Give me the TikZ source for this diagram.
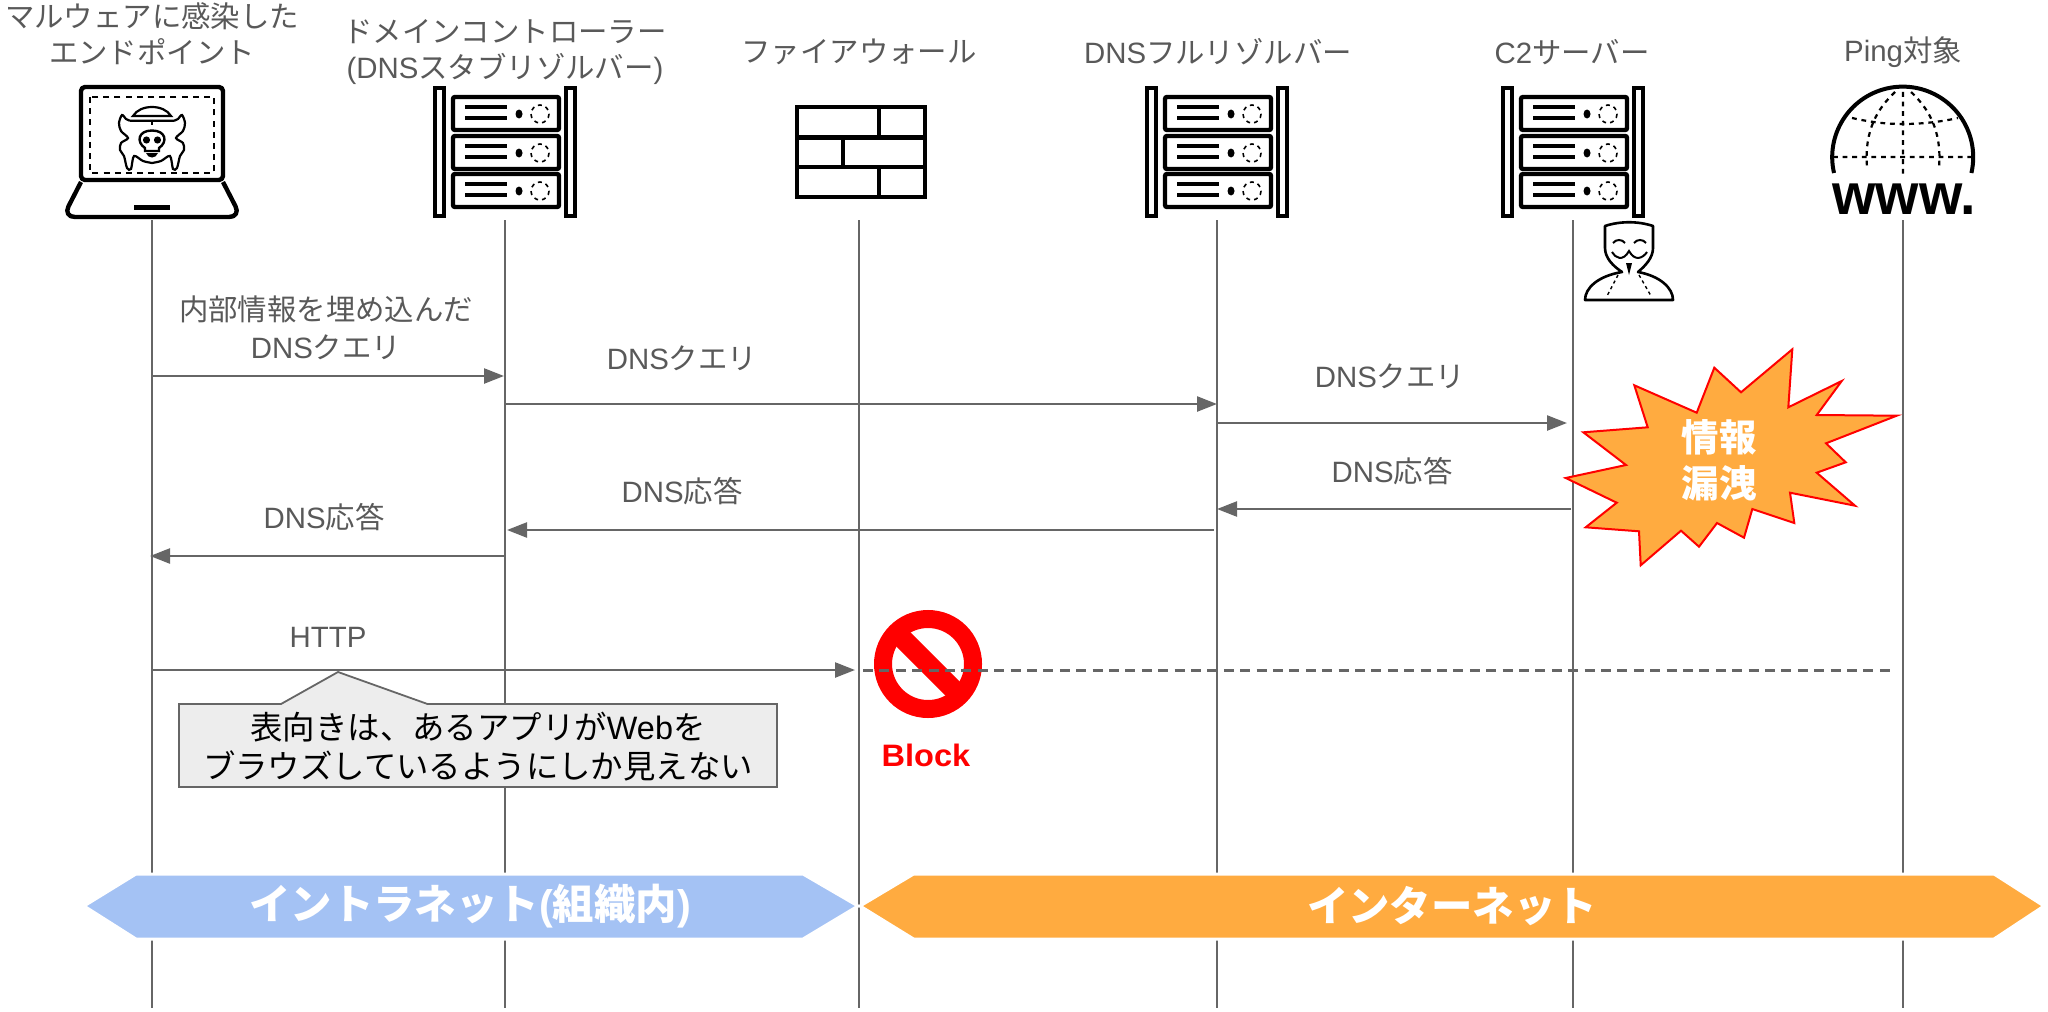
\documentclass[tikz,border=0pt]{standalone}
\usepackage{fontspec}
\setmainfont{Liberation Sans}
\newfontfamily\jp{Noto Sans CJK JP}
\usetikzlibrary{arrows.meta}
\definecolor{txtgray}{HTML}{595959}
\definecolor{linegray}{HTML}{666666}
\definecolor{zoneblue}{HTML}{A4C2F4}
\definecolor{zoneorange}{HTML}{FFAB40}
\definecolor{notered}{HTML}{FF0000}
\tikzset{
	headtxt/.style={inner sep=0pt,align=center,text=txtgray,font=\fontsize{14.7}{18}\selectfont},
	msgtxt/.style={inner sep=0pt,align=center,text=txtgray,font=\fontsize{14.7}{19}\selectfont},
	lifeline/.style={draw=linegray,line width=1.2pt},
	msgarrow/.style={draw=linegray,line width=1.2pt,-{Triangle[length=10pt,width=7.5pt]}},
	zonetxt/.style={inner sep=0pt,text=white,font=\fontsize{20.7}{24}\selectfont\bfseries},
	zonearrow/.style={draw=white,line width=1.5pt},
	icon/.style={draw=black,line width=2.2pt},
	serverrack/.pic={
		\draw[line width=1.9pt] (-70,88) rectangle (-61,216) (61,88) rectangle (70,216);
		\foreach \ytop in {97,136,174}{
			\draw[icon,rounded corners=1pt] (-52,\ytop) rectangle (54,\ytop+33);
			\draw[line width=2pt] (-40,\ytop+10) -- (2,\ytop+10) (-40,\ytop+21) -- (2,\ytop+21);
			\fill (14,\ytop+17) ellipse (3.5 and 4.5);
			\draw[line width=.8pt,dash pattern=on 2pt off 2pt] (35,\ytop+17) circle (9);
		}
	}
}
\begin{document}
\begin{tikzpicture}[x=.5pt,y=-.5pt]
	\useasboundingbox (0,0) rectangle (2048,1011);
	\foreach \x/\n in {152/ep,505/dc,859/fw,1217/fr,1573/c2,1903/pg}{
		\coordinate (\n top) at (\x,220);
		\coordinate (\n bot) at (\x,1008);
		\draw[lifeline] (\n top)--(\n bot);
	}
	% headers
	\node[headtxt] (eptxt) at (152,34) {{\jp マルウェアに感染した}\\{\jp エンドポイント}};
	\node[headtxt] (dctxt) at (505,52) {{\jp ドメインコントローラー}\\({DNS}{\jp スタブリゾルバー})};
	\node[headtxt] (fwtxt) at (859,52) {\jp ファイアウォール};
	\node[headtxt] (frtxt) at (1218,52) {DNS{\jp フルリゾルバー}};
	\node[headtxt] (c2txt) at (1572,52) {C2{\jp サーバー}};
	\node[headtxt] (pgtxt) at (1903,52) {Ping{\jp 対象}};
	% laptop
	\draw[icon,rounded corners=2pt,line join=round] (81,87) rectangle (223,180);
	\draw[line width=1.2pt,dash pattern=on 3pt off 2.6pt] (90,97) rectangle (214,173);
	\draw[icon,rounded corners=6pt,line join=round] (81,182) -- (63,217) -- (241,217) -- (223,182);
	\fill (134,205) rectangle (170,210);
	\draw[line width=1.1pt] (133,116) .. controls (140,104) and (164,104) .. (171,116) -- cycle;
	\foreach \s in {1,-1}{
		\begin{scope}[shift={(152,0)},xscale=\s]
			\draw[line width=1.1pt] (0,120.7) -- (-22,120.7) plot[smooth,tension=.5] coordinates {(-22,120.7) (-26,119) (-30,115) (-33,123) (-31,131) (-24,138) (-31,143) (-32,150) (-28,156) (-25,168) (-21,169) (-18,156) (-9,161) (0,163)};
			\fill (-5.5,140) circle (3.6);
		\end{scope}
	}
	\draw[line width=1.1pt] (152,120.7) -- (152,125);
	\draw[line width=1.2pt] (145,148) .. controls (136,142) and (138,130.5) .. (152,130.5) .. controls (166,130.5) and (168,142) .. (159,148) -- (159,151) -- (145,151) -- cycle;
	\fill[black] (146,153) .. controls (148,159) and (156,159) .. (158,153) -- cycle;
	% servers
	\foreach \x in {505,1217,1573} \pic at (\x,0) {serverrack};
	% firewall
	\draw[icon] (797,107) rectangle (925,197) (797,137.5)--(925,137.5) (797,167)--(925,167)
	(879,107)--(879,137.5) (843,137.5)--(843,167) (879,167)--(879,197);
	% globe
	\draw[line width=2pt] (1834,173) arc (167:373:70.5);
	\draw[line width=1.1pt,dash pattern=on 2.4pt off 2.4pt] (1833,157)--(1975,157) (1903,92)--(1903,175)
	(1852,118) .. controls (1870,122) and (1885,124) .. (1903,124) .. controls (1921,124) and (1940,122) .. (1958,118)
	(1895,92) .. controls (1878,108) and (1864,130) .. (1867,167)
	(1911,92) .. controls (1928,108) and (1942,130) .. (1939,167);
	\node[inner sep=0pt,anchor=base,xscale=.96,font=\fontsize{29}{29}\selectfont\bfseries] (wwwtxt) at (1904,214) {www.};
	% attacker
	\draw[line width=1.3pt,line join=round] (1605,226) .. controls (1620,221) and (1638,221) .. (1653,226) -- (1653,248) .. controls (1653,258) and (1645,266) .. (1638,272)
	.. controls (1660,276) and (1673,288) .. (1673,300) -- (1585,300) .. controls (1585,288) and (1598,276) .. (1622,272)
	.. controls (1613,266) and (1605,258) .. (1605,248) -- cycle;
	\draw[line width=1pt] (1613,243) .. controls (1616,239) and (1622,239) .. (1625,243) (1634,243) .. controls (1637,239) and (1643,239) .. (1646,243);
	\draw[line width=1pt] (1612,252) .. controls (1615,258) and (1623,262) .. (1629,251) .. controls (1635,262) and (1643,258) .. (1647,252);
	\fill (1626,263) -- (1632,263) -- (1629,275) -- cycle;
	\draw[line width=.7pt,dash pattern=on 1.6pt off 1.6pt] (1618,275) -- (1607,296) (1639,275) -- (1651,296);
	% messages
	\foreach \n/\x/\y in {a1/152/376,a2/504/376,b1/505/404,b2/1217/404,c1/1217/423,c2/1567/423,
		d1/1571/509,d2/1217/509,e1/1214/530,e2/507/530,f1/504/556,f2/150/556,g1/152/670,g2/855/670,h1/863/670,h2/1894/670}
	\coordinate (\n) at (\x,\y);
	\draw[msgarrow] (a1)--(a2);
	\draw[msgarrow] (b1)--(b2);
	\draw[msgarrow] (c1)--(c2);
	\draw[msgarrow] (d1)--(d2);
	\draw[msgarrow] (e1)--(e2);
	\draw[msgarrow] (f1)--(f2);
	\draw[msgarrow] (g1)--(g2);
	\node[msgtxt] (atxt) at (326,328) {{\jp 内部情報を埋め込んだ}\\DNS{\jp クエリ}};
	\node[msgtxt] (btxt) at (682,358) {DNS{\jp クエリ}};
	\node[msgtxt] (ctxt) at (1390,376) {DNS{\jp クエリ}};
	\node[msgtxt] (dtxt) at (1392,471) {DNS{\jp 応答}};
	\node[msgtxt] (etxt) at (682,491) {DNS{\jp 応答}};
	\node[msgtxt] (ftxt) at (324,517) {DNS{\jp 応答}};
	\node[msgtxt] (gtxt) at (328,637) {HTTP};
	% block mark
	\draw[notered,line width=9pt] (928,664) circle (45);
	\draw[notered,line width=10pt] (896,632)--(960,696);
	\draw[linegray,line width=1.5pt,dash pattern=on 5pt off 3.2pt] (h1)--(h2);
	\node[inner sep=0pt,text=notered,xscale=1.05,font=\fontsize{15.5}{18}\selectfont\bfseries] (blocktxt) at (926,755) {Block};
	% leak burst
	\draw[fill=zoneorange,draw=notered,line width=1pt] (1792.3,349.3)--(1788.3,407.3)--(1841.7,381)--(1816.7,415)--(1896.7,415.7)--(1826,443.3)--(1845.7,462.3)--(1816.7,472.7)--(1855,505.7)--(1790,492.7)--(1794.3,523)--(1752.3,509)--(1744,537.7)--(1717,523)--(1699,546.7)--(1681,530.7)--(1640.7,565.3)--(1639,531.3)--(1585.7,527.3)--(1616.7,502.7)--(1565.7,478)--(1626,465)--(1583.3,432.3)--(1647.7,427.3)--(1634.3,385.3)--(1696.7,412.7)--(1714.3,367.7)--(1741,392.3)--cycle;
	\node[inner sep=0pt,align=center,text=white,font=\fontsize{18.7}{23}\selectfont\jp\bfseries] (leaktxt) at (1719,460) {情報\\漏洩};
	% note
	\draw[fill=black!7,draw=linegray,line width=.9pt] (179,704)--(281,704)--(338,672)--(427.5,704)--(777,704)--(777,787)--(179,787)--cycle;
	\node[inner sep=0pt,align=center,text=black,font=\fontsize{16.2}{19.5}\selectfont] (notetxt) at (478,747) {{\jp 表向きは、あるアプリが}Web{\jp を}\\{\jp ブラウズしているようにしか見えない}};
	% zones
	\draw[zonearrow,fill=zoneblue] (84,906)--(136,874)--(803,874)--(858,906)--(803,939)--(136,939)--cycle;
	\draw[zonearrow,fill=zoneorange] (860,906)--(913.6,874)--(1994,874)--(2044,906)--(1994,939)--(913.6,939)--cycle;
	\node[zonetxt] (intratxt) at (470,906) {{\jp\bfseries イントラネット}({\jp\bfseries 組織内})};
	\node[zonetxt] (intertxt) at (1452,906) {\jp\bfseries インターネット};
\end{tikzpicture}
\end{document}
